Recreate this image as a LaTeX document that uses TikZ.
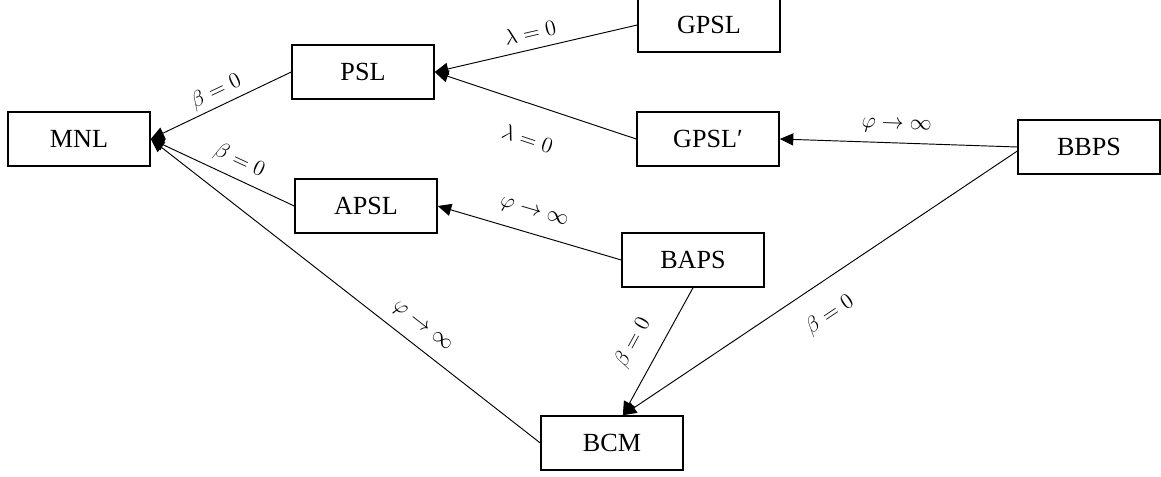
\RequirePackage{fix-cm}
\documentclass[tikz,border=0pt]{standalone}
\usepackage{fontspec}
\setmainfont{Liberation Serif}
\usetikzlibrary{arrows.meta}
\begin{document}
\begin{tikzpicture}[x=0.738pt,y=-0.738pt,
  box/.style={draw, line width=1.1pt, minimum width=104.8pt, minimum height=39.9pt, inner sep=0pt, font=\fontsize{19.3}{23}\selectfont},
  lbl/.style={font=\fontsize{16.2}{19}\selectfont, inner sep=1pt, sloped},
  conn/.style={line width=0.7pt, {Triangle[length=10pt,width=9pt]}-}]
\useasboundingbox (0,0) rectangle (1161,477);
\node[box] (MNL) at (79,139) {MNL};
\node[box] (PSL) at (363,72) {PSL};
\node[box] (GPSL) at (709,25) {GPSL};
\node[box] (GPSLp) at (708,139) {GPSL′};
\node[box] (BBPS) at (1089,147) {BBPS};
\node[box] (APSL) at (366,206) {APSL};
\node[box] (BAPS) at (693,260) {BAPS};
\node[box] (BCM) at (612,443) {BCM};
\draw[conn] (MNL.east) -- node[lbl, pos=0.51, above=2.1pt] {$\beta = 0$} (PSL.west);
\draw[conn] (MNL.east) -- node[lbl, pos=0.567, above=4.3pt] {$\beta = 0$} (APSL.west);
\draw[conn] (MNL.east) -- node[lbl, pos=0.667, above=7pt] {$\varphi \to \infty$} (BCM.west);
\draw[conn] (PSL.east) -- node[lbl, pos=0.49, above=5.6pt] {$\lambda = 0$} (GPSL.west);
\draw[conn] (PSL.east) -- node[lbl, pos=0.514, below=17.8pt] {$\lambda = 0$} (GPSLp.west);
\draw[conn] (GPSLp.east) -- node[lbl, pos=0.49, above=6.1pt] {$\varphi \to \infty$} (BBPS.west);
\draw[conn] (APSL.east) -- node[lbl, pos=0.493, above=8.4pt] {$\varphi \to \infty$} (BAPS.west);
\draw[conn] ([xshift=8pt]BCM.north) -- node[lbl, pos=0.47, above=10.7pt] {$\beta = 0$} (BAPS.south);
\draw[conn] ([xshift=8pt]BCM.north) -- node[lbl, pos=0.48, below=15pt] {$\beta = 0$} ([yshift=-3pt]BBPS.west);
\end{tikzpicture}
\end{document}
